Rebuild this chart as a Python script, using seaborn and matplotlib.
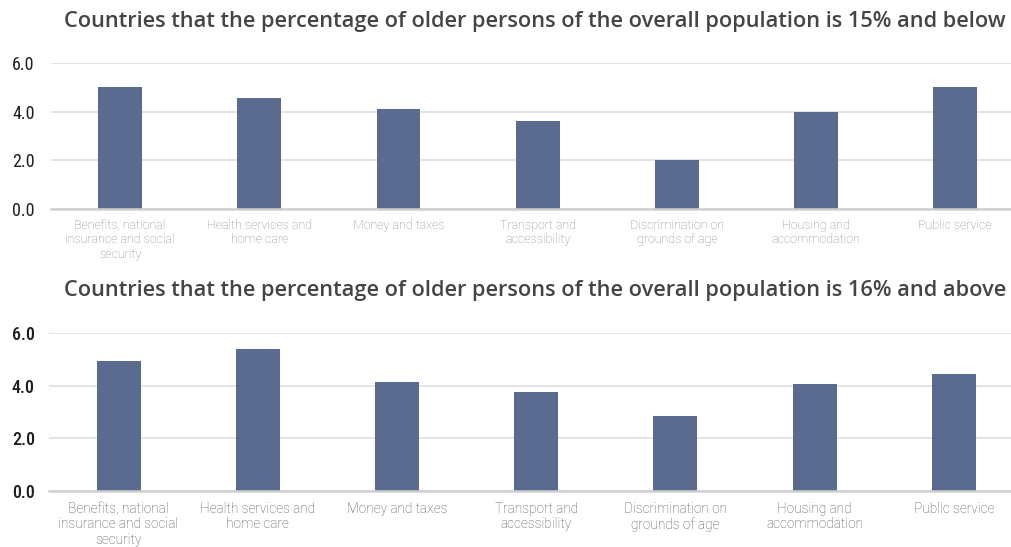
import matplotlib
matplotlib.use("Agg")
import matplotlib.pyplot as plt
import seaborn as sns
import pandas as pd

categories = [
    "Benefits, national\ninsurance and social\nsecurity",
    "Health services and\nhome care",
    "Money and taxes",
    "Transport and\naccessibility",
    "Discrimination on\ngrounds of age",
    "Housing and\naccommodation",
    "Public service",
]
values_15_below = [5.0, 4.55, 4.1, 3.6, 2.0, 4.0, 5.0]
values_16_above = [4.95, 5.4, 4.15, 3.75, 2.85, 4.05, 4.45]
titles = [
    "Countries that the percentage of older persons of the overall population is 15% and below",
    "Countries that the percentage of older persons of the overall population is 16% and above",
]
y_ticks = [0.0, 2.0, 4.0, 6.0]

sns.set_theme(style="white")
plt.rcParams["font.family"] = ["Open Sans", "DejaVu Sans"]

BAR = "#5b6b8f"
W, H = 1012, 547
fig = plt.figure(figsize=(W / 100, H / 100), dpi=100)

# axes boxes in pixel terms: left, zero-line y, top (6.0) y
panels = [
    dict(vals=values_15_below, left=50.5, y0=209, y6=63, title_y=21,
         lab_color="#8a8a8a", lab_size=9.0, lab_pad=7, tick_weight="normal"),
    dict(vals=values_16_above, left=49.0, y0=490.7, y6=333, title_y=291,
         lab_color="#555555", lab_size=9.8, lab_pad=8, tick_weight="medium"),
]
step_px = 139.2

for p, title in zip(panels, titles):
    ax = fig.add_axes([p["left"] / W, (H - p["y0"]) / H,
                       (W - p["left"]) / W, (p["y0"] - p["y6"]) / H])
    df = pd.DataFrame({"category": categories, "value": p["vals"]})
    sns.barplot(data=df, x="category", y="value", color=BAR, width=0.315,
                saturation=1, ax=ax, edgecolor="none")
    ax.set_xlim(-0.5, -0.5 + (W - p["left"]) / step_px)
    ax.set_ylim(0, 6.0)
    ax.set_yticks(y_ticks)
    ax.set_yticklabels([f"{t:.1f}" for t in y_ticks],
                       family=["Roboto Condensed", "DejaVu Sans"],
                       fontstretch="condensed", fontsize=13,
                       color="#1e1e1e", weight=p["tick_weight"])
    ax.set_xticks(range(len(categories)))
    ax.set_xticklabels(categories, family=["Roboto", "DejaVu Sans"],
                       fontweight="light", fontsize=p["lab_size"],
                       color=p["lab_color"], linespacing=1.15)
    ax.tick_params(axis="both", length=0)
    ax.tick_params(axis="x", pad=p["lab_pad"])
    ax.tick_params(axis="y", pad=(p["left"] - 12) * 0.72)
    ax.set_xlabel("")
    ax.set_ylabel("")
    ax.yaxis.grid(True, color="#dedede", linewidth=1.2)
    ax.set_axisbelow(True)
    for s in ["top", "right", "left"]:
        ax.spines[s].set_visible(False)
    ax.spines["bottom"].set_color("#d0d0d0")
    ax.spines["bottom"].set_linewidth(1.8)
    for lab in ax.get_yticklabels():
        lab.set_horizontalalignment("left")
    fig.text(535 / W, 1 - p["title_y"] / H, title, ha="center", va="center",
             fontsize=15.7, color="#444444", weight="semibold")

fig.savefig("out.png", dpi=100)
